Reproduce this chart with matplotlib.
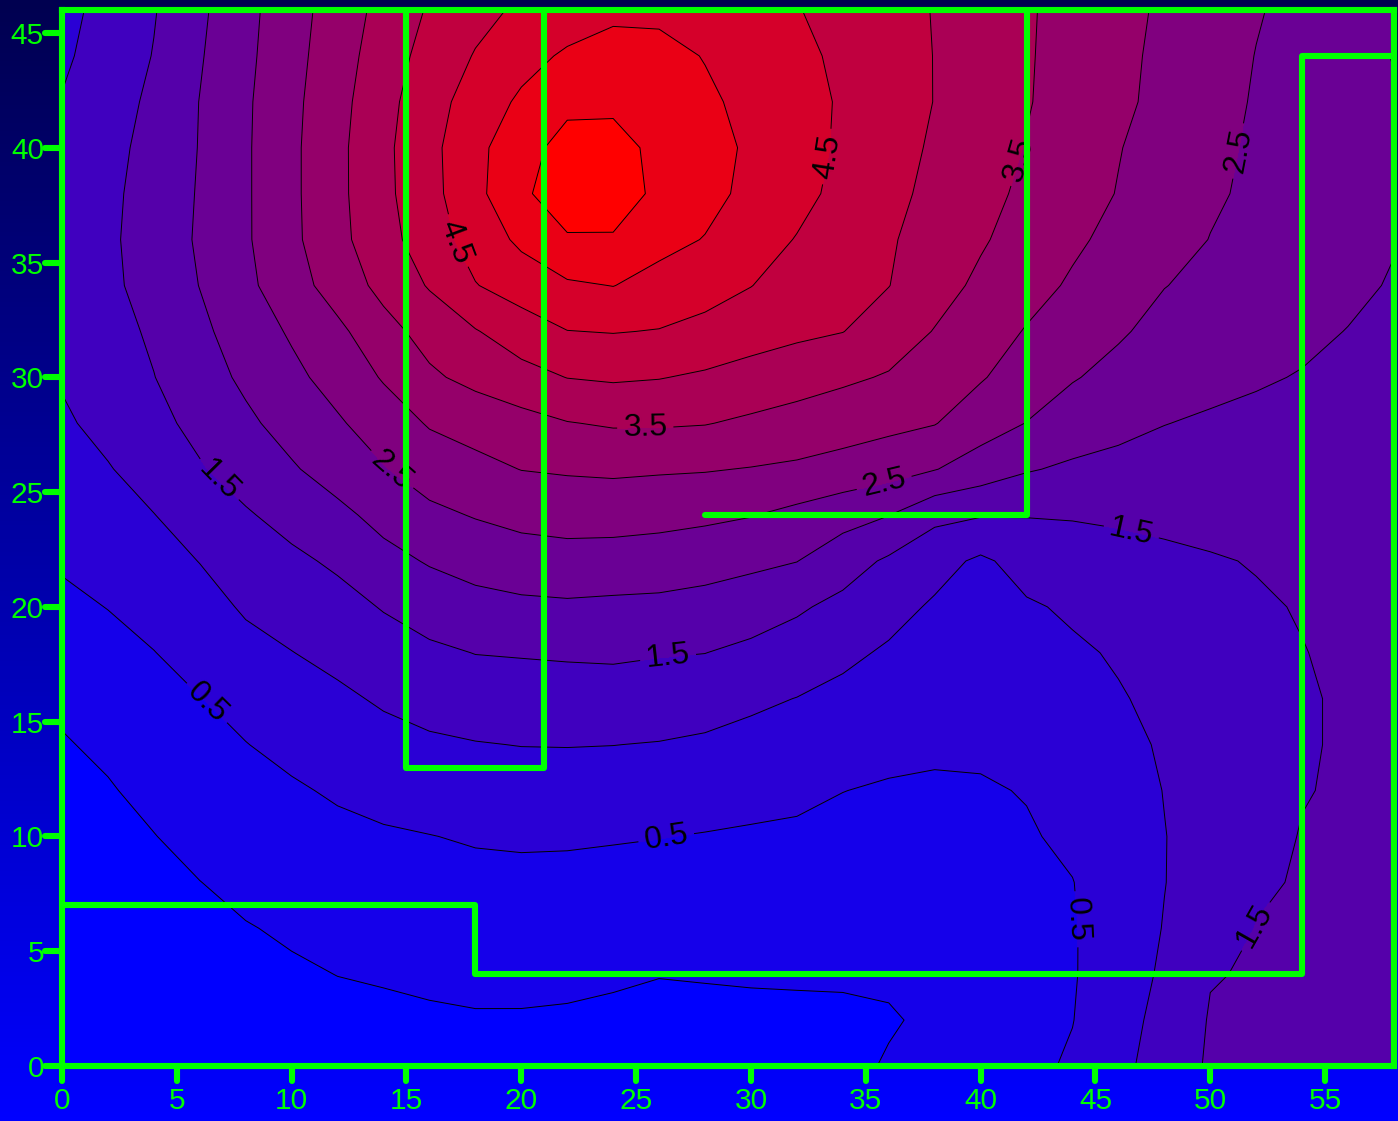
import matplotlib
matplotlib.use("Agg")
import matplotlib.pyplot as plt
import numpy as np
from matplotlib.colors import LinearSegmentedColormap
from matplotlib.markers import MarkerStyle, TICKDOWN, TICKLEFT

plt.rcParams['font.family'] = ['Liberation Sans', 'DejaVu Sans']

# Measurement grid (metres) and the measured field, one row per y, bottom row first
x_pos = [0, 2, 4, 6, 8, 10, 12, 14, 16, 18, 20, 22, 24, 26, 28,
         30, 32, 34, 36, 38, 40, 42, 44, 46, 48, 50, 52, 54, 56, 58]
y_pos = [0, 2, 4, 6, 8, 10, 12, 14, 16, 18, 20, 22,
         24, 26, 28, 30, 32, 34, 36, 38, 40, 42, 44, 46]

field_rows = [
    [-0.40, -0.38, -0.35, -0.32, -0.29, -0.25, -0.22, -0.20, -0.17, -0.14, -0.14, -0.15, -0.18, -0.22, -0.20, -0.17, -0.14, -0.09, 0.03, 0.16, 0.28, 0.40, 0.55, 0.87, 1.22, 1.56, 1.60, 1.63, 1.66, 1.70],
    [-0.35, -0.33, -0.28, -0.24, -0.20, -0.15, -0.10, -0.096, -0.06, -0.035, -0.036, -0.053, -0.093, -0.15, -0.12, -0.096, -0.083, -0.068, -0.03, 0.06, 0.25, 0.39, 0.49, 0.79, 1.17, 1.53, 1.57, 1.60, 1.62, 1.65],
    [-0.29, -0.26, -0.21, -0.16, -0.10, -0.05, 0.005, 0.041, 0.079, 0.105, 0.107, 0.093, 0.062, 0.016, 0.03, 0.041, 0.045, 0.045, 0.05, 0.10, 0.24, 0.38, 0.47, 0.73, 1.08, 1.48, 1.53, 1.56, 1.58, 1.61],
    [-0.24, -0.20, -0.14, -0.08, -0.02, 0.05, 0.13, 0.18, 0.22, 0.24, 0.25, 0.24, 0.22, 0.18, 0.18, 0.18, 0.17, 0.16, 0.15, 0.17, 0.27, 0.39, 0.47, 0.72, 1.02, 1.29, 1.51, 1.54, 1.57, 1.60],
    [-0.19, -0.15, -0.08, -0.005, 0.10, 0.18, 0.27, 0.32, 0.36, 0.38, 0.39, 0.39, 0.37, 0.34, 0.33, 0.32, 0.30, 0.27, 0.26, 0.25, 0.33, 0.42, 0.49, 0.75, 0.99, 1.23, 1.45, 1.53, 1.57, 1.60],
    [-0.14, -0.09, -0.01, 0.12, 0.23, 0.32, 0.40, 0.45, 0.49, 0.54, 0.56, 0.55, 0.53, 0.51, 0.48, 0.45, 0.43, 0.39, 0.36, 0.34, 0.39, 0.46, 0.58, 0.76, 0.99, 1.17, 1.35, 1.52, 1.57, 1.60],
    [-0.08, -0.03, 0.10, 0.24, 0.36, 0.45, 0.55, 0.64, 0.71, 0.76, 0.78, 0.78, 0.77, 0.74, 0.69, 0.64, 0.59, 0.505, 0.46, 0.45, 0.46, 0.52, 0.67, 0.82, 1.01, 1.17, 1.33, 1.48, 1.55, 1.60],
    [-0.03, 0.07, 0.23, 0.37, 0.49, 0.61, 0.75, 0.84, 0.93, 0.98, 1.01, 1.015, 1.005, 0.98, 0.93, 0.85, 0.79, 0.69, 0.61, 0.56, 0.57, 0.65, 0.76, 0.90, 1.04, 1.18, 1.32, 1.46, 1.55, 1.60],
    [0.07, 0.21, 0.36, 0.49, 0.63, 0.77, 0.91, 1.06, 1.17, 1.24, 1.28, 1.30, 1.29, 1.26, 1.20, 1.09, 0.99, 0.88, 0.77, 0.69, 0.67, 0.76, 0.85, 0.97, 1.09, 1.21, 1.34, 1.46, 1.55, 1.60],
    [0.23, 0.36, 0.49, 0.67, 0.87, 0.99, 1.13, 1.28, 1.41, 1.51, 1.53, 1.55, 1.57, 1.53, 1.505, 1.39, 1.29, 1.10, 0.94, 0.81, 0.78, 0.87, 0.94, 1.04, 1.16, 1.27, 1.38, 1.49, 1.56, 1.60],
    [0.40, 0.51, 0.66, 0.84, 1.05, 1.20, 1.33, 1.53, 1.72, 1.84, 1.90, 1.93, 1.90, 1.89, 1.84, 1.74, 1.56, 1.38, 1.16, 0.94, 0.89, 0.95, 1.06, 1.19, 1.30, 1.38, 1.46, 1.52, 1.57, 1.60],
    [0.55, 0.68, 0.83, 1.01, 1.23, 1.40, 1.58, 1.85, 2.04, 2.18, 2.28, 2.31, 2.30, 2.25, 2.18, 2.10, 2.01, 1.71, 1.43, 1.17, 0.92, 1.18, 1.23, 1.33, 1.41, 1.47, 1.52, 1.55, 1.58, 1.60],
    [0.68, 0.83, 0.99, 1.24, 1.45, 1.67, 1.88, 2.15, 2.39, 2.53, 2.64, 2.70, 2.69, 2.66, 2.60, 2.52, 2.37, 2.19, 2.01, 1.62, 1.53, 1.52, 1.54, 1.57, 1.60, 1.62, 1.63, 1.64, 1.64, 1.64],
    [0.80, 0.97, 1.21, 1.46, 1.71, 1.95, 2.21, 2.47, 2.73, 2.87, 3.01, 3.05, 3.08, 3.05, 3.03, 2.98, 2.92, 2.82, 2.70, 2.52, 2.27, 2.04, 1.92, 1.86, 1.81, 1.78, 1.77, 1.76, 1.73, 1.70],
    [0.93, 1.14, 1.37, 1.63, 1.91, 2.18, 2.44, 2.75, 3.04, 3.18, 3.33, 3.48, 3.55, 3.55, 3.52, 3.42, 3.32, 3.22, 3.12, 3.02, 2.72, 2.49, 2.28, 2.13, 2.01, 1.94, 1.91, 1.88, 1.83, 1.76],
    [1.04, 1.26, 1.49, 1.79, 2.09, 2.38, 2.69, 3.04, 3.42, 3.64, 3.83, 4.01, 4.06, 4.02, 3.93, 3.81, 3.70, 3.58, 3.46, 3.26, 3.04, 2.76, 2.53, 2.37, 2.23, 2.13, 2.04, 1.98, 1.91, 1.83],
    [1.11, 1.33, 1.57, 1.90, 2.23, 2.56, 2.89, 3.33, 3.68, 3.97, 4.26, 4.49, 4.52, 4.48, 4.37, 4.22, 4.10, 4.01, 3.75, 3.48, 3.23, 2.97, 2.74, 2.55, 2.37, 2.27, 2.14, 2.08, 1.99, 1.90],
    [1.17, 1.40, 1.68, 2.01, 2.39, 2.79, 3.22, 3.64, 4.04, 4.48, 4.72, 4.93, 5.01, 4.83, 4.68, 4.51, 4.29, 4.13, 4.01, 3.68, 3.41, 3.17, 2.94, 2.72, 2.51, 2.40, 2.29, 2.18, 2.08, 1.97],
    [1.20, 1.42, 1.71, 2.06, 2.44, 2.89, 3.36, 3.82, 4.26, 4.70, 5.10, 5.46, 5.46, 5.15, 4.98, 4.69, 4.48, 4.30, 4.05, 3.80, 3.55, 3.31, 3.08, 2.87, 2.68, 2.49, 2.37, 2.25, 2.14, 2.02],
    [1.18, 1.40, 1.69, 2.04, 2.44, 2.90, 3.38, 3.88, 4.34, 4.86, 5.43, 5.72, 5.71, 5.41, 5.15, 4.88, 4.63, 4.38, 4.13, 3.88, 3.64, 3.41, 3.20, 2.98, 2.77, 2.56, 2.42, 2.31, 2.19, 2.06],
    [1.12, 1.36, 1.65, 2.02, 2.44, 2.90, 3.38, 3.89, 4.36, 4.87, 5.31, 5.68, 5.64, 5.40, 5.17, 4.93, 4.68, 4.43, 4.18, 3.94, 3.71, 3.48, 3.25, 3.02, 2.81, 2.60, 2.44, 2.33, 2.21, 2.08],
    [1.02, 1.28, 1.60, 2.01, 2.43, 2.88, 3.34, 3.84, 4.30, 4.72, 5.08, 5.38, 5.42, 5.24, 5.08, 4.88, 4.67, 4.45, 4.22, 3.99, 3.76, 3.53, 3.31, 3.09, 2.88, 2.67, 2.46, 2.32, 2.18, 2.04],
    [0.93, 1.19, 1.52, 1.96, 2.39, 2.84, 3.28, 3.75, 4.18, 4.53, 4.83, 5.07, 5.18, 5.14, 4.98, 4.80, 4.61, 4.41, 4.20, 3.99, 3.77, 3.54, 3.33, 3.11, 2.90, 2.69, 2.49, 2.35, 2.20, 1.98],
    [0.85, 1.16, 1.47, 1.91, 2.36, 2.80, 3.23, 3.65, 4.05, 4.35, 4.58, 4.73, 4.90, 4.90, 4.74, 4.63, 4.52, 4.35, 4.17, 3.98, 3.77, 3.55, 3.34, 3.14, 2.93, 2.73, 2.53, 2.38, 2.24, 2.12],
]

fill_levels = [-0.5, 0.0, 0.5, 1.0, 1.5, 2.0, 2.5, 3.0, 3.5, 4.0, 4.5, 5.0, 5.5, 6.0]
plain_levels = [0.0, 1.0, 2.0, 3.0, 4.0, 5.0, 5.5]
label_levels = [0.5, 1.5, 2.5, 3.5, 4.5]
label_spots = [(17.1, 35.9), (33.4, 39.6), (25.4, 27.6), (41.7, 39.5),
               (14.3, 25.9), (35.8, 25.4), (51.0, 39.9),
               (6.7, 25.4), (26.4, 17.7), (46.5, 23.0), (51.6, 6.2),
               (6.2, 15.7), (26.3, 10.0), (44.3, 6.4)]

# interior walls of the floor plan
wall_south_x = [0, 18, 18, 54, 54, 58]
wall_south_y = [7, 7, 4, 4, 44, 44]
wall_column_x = [15, 15, 21, 21]
wall_column_y = [46, 13, 13, 46]
wall_room_x = [28, 42, 42]
wall_room_y = [24, 24, 46]

LIME = '#00ff00'
LW = 4.4

fig = plt.figure(figsize=(13.98, 11.21), dpi=100)

# backdrop: dark navy at the top fading into pure blue
bg = fig.add_axes([0, 0, 1, 1], zorder=0)
bg_cmap = LinearSegmentedColormap.from_list('backdrop', ['#000050', '#0000ff'])
bg.imshow(np.linspace(0, 1, 256).reshape(-1, 1), aspect='auto', cmap=bg_cmap,
          extent=[0, 1, 0, 1], origin='upper')
bg.set_axis_off()

ax = fig.add_axes([62 / 1398, 55 / 1121, 1332 / 1398, 1056 / 1121], zorder=1)
ax.patch.set_alpha(0)

X, Y = np.meshgrid(x_pos, y_pos)
Z = np.array(field_rows)

heat = LinearSegmentedColormap.from_list('blue_red', ['#0000ff', '#ff0000'])
ax.contourf(X, Y, Z, levels=fill_levels, cmap=heat, vmin=-0.25, vmax=5.75)
ax.contour(X, Y, Z, levels=plain_levels, colors='k', linewidths=0.7)
labelled = ax.contour(X, Y, Z, levels=label_levels, colors='k', linewidths=0.7)
ax.clabel(labelled, manual=label_spots, fmt='%.1f',
          fontsize=23, colors='k', inline=True, inline_spacing=6)

for wx, wy in [(wall_south_x, wall_south_y), (wall_column_x, wall_column_y),
               (wall_room_x, wall_room_y)]:
    ax.plot(wx, wy, color=LIME, linewidth=LW, solid_capstyle='round',
            solid_joinstyle='round', zorder=5)

ax.set_xlim(0, 58)
ax.set_ylim(0, 46)
ax.set_xticks([0, 5, 10, 15, 20, 25, 30, 35, 40, 45, 50, 55])
ax.set_yticks([0, 5, 10, 15, 20, 25, 30, 35, 40, 45])

for side in ax.spines.values():
    side.set_color(LIME)
    side.set_linewidth(LW)
    side.set_zorder(6)

ax.tick_params(colors=LIME, width=LW, labelsize=21.5)
ax.tick_params(axis='x', length=11.0, pad=4)
ax.tick_params(axis='y', length=12.5, pad=0.5)

# rounded tick ends
for tick in ax.xaxis.get_major_ticks():
    tick.tick1line.set_marker(MarkerStyle(TICKDOWN, capstyle='round'))
for tick in ax.yaxis.get_major_ticks():
    tick.tick1line.set_marker(MarkerStyle(TICKLEFT, capstyle='round'))

fig.savefig('out.png', dpi=100)
